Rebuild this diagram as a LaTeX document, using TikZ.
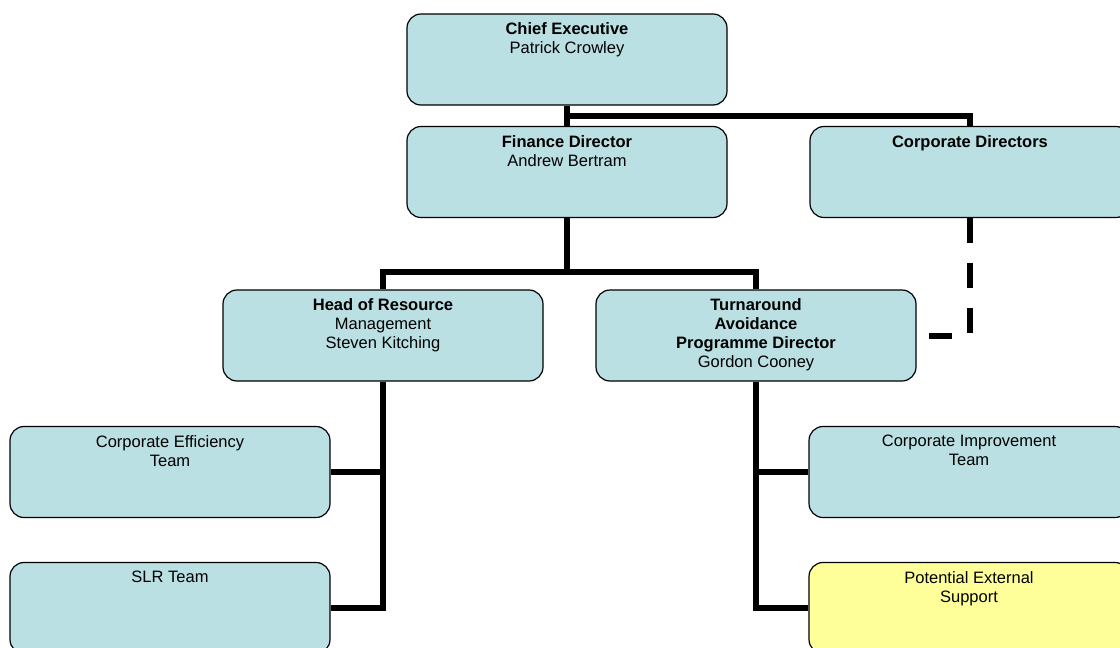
\documentclass[tikz,border=0pt]{standalone}
\usepackage{fontspec}
\setmainfont{Liberation Sans}
\usetikzlibrary{positioning, calc}
\definecolor{boxblue}{RGB}{187,224,227}
\definecolor{boxyellow}{RGB}{255,255,153}
\tikzset{
  orgbox/.style={draw=black, line width=1.2pt, fill=boxblue, rounded corners=14pt,
    minimum width=320pt, minimum height=91pt, inner sep=0pt},
  boxlabel/.style={anchor=north, yshift=-9pt, align=center, inner sep=0pt,
    font=\fontsize{16.5}{19}\selectfont},
  link/.style={line width=6pt},
  dashlink/.style={line width=6pt, dash pattern=on 25pt off 20pt},
}
\begin{document}
\begin{tikzpicture}[x=1pt, y=-1pt]
    \useasboundingbox (0,0) rectangle (1120,648);
    \clip (0,0) rectangle (1120,648);
    % boxes
    \node[orgbox, label={[boxlabel]north:{\textbf{Chief Executive}\\Patrick Crowley}}] (chief) at (567,59.5) {};
    \node[orgbox, label={[boxlabel]north:{\textbf{Finance Director}\\Andrew Bertram}}] (finance) at (567,172) {};
    \node[orgbox, label={[boxlabel]north:{\textbf{Corporate Directors}}}] (corpdir) at (970,172) {};
    \node[orgbox, label={[boxlabel]north:{\textbf{Head of Resource}\\Management\\Steven Kitching}}] (resource) at (383,335.5) {};
    \node[orgbox, label={[boxlabel]north:{\textbf{Turnaround}\\\textbf{Avoidance}\\\textbf{Programme Director}\\Gordon Cooney}}] (turnaround) at (756,335.5) {};
    \node[orgbox, label={[boxlabel]north:{Corporate Efficiency\\Team}}] (efficiency) at (170,472) {};
    \node[orgbox, label={[boxlabel]north:{SLR Team}}] (slr) at (170,608) {};
    \node[orgbox, label={[boxlabel]north:{Corporate Improvement\\Team}}] (improvement) at (969,472) {};
    \node[orgbox, fill=boxyellow, label={[boxlabel]north:{Potential External\\Support}}] (external) at (969,608) {};
    % connectors
    \coordinate (topjoin) at ($(chief.south)!0.5!(finance.north)$);
    \draw[link] (chief.south) -- (finance.north);
    \draw[link] (topjoin) -| (corpdir.north);
    \draw[link] (finance.south) -- ++(0,54) coordinate (midjoin);
    \draw[link] (resource.north) |- (midjoin) -| (turnaround.north);
    \draw[link] (resource.south) |- (slr.east);
    \draw[link] (efficiency.east) -- (efficiency.east -| resource.south);
    \draw[link] (turnaround.south) |- (external.west);
    \draw[link] (improvement.west) -- (improvement.west -| turnaround.south);
    \draw[dashlink] (corpdir.south) |- ([xshift=12pt]turnaround.east);
\end{tikzpicture}
\end{document}
